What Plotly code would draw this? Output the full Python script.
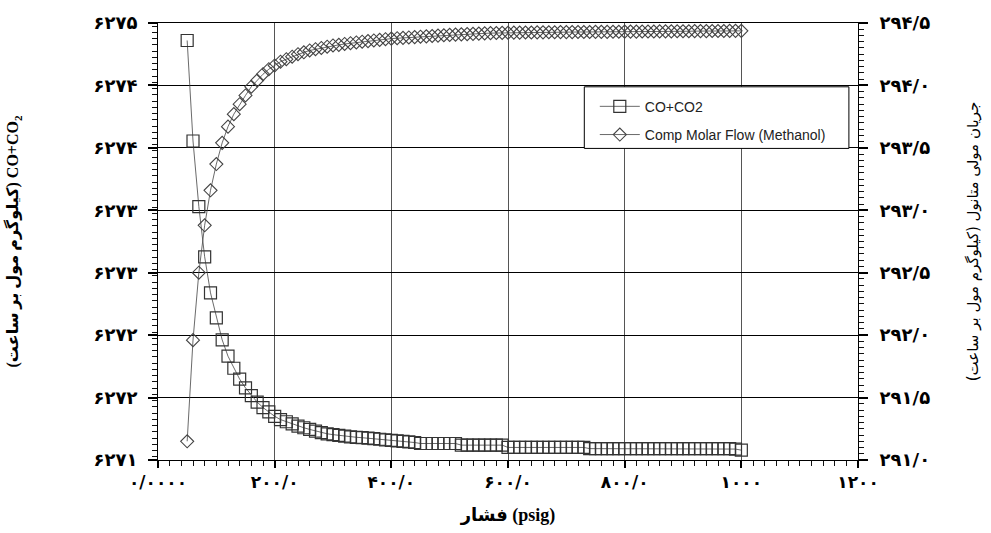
import plotly.graph_objects as go

# Pressure (psig)
pressure = [50, 60, 70, 80, 90, 100, 110, 120, 130, 140, 150, 160, 170, 180, 190, 200,
            210, 220, 230, 240, 250, 260, 270, 280, 290, 300, 310, 320, 330, 340, 350,
            360, 370, 380, 390, 400, 410, 420, 430, 440, 450, 460, 470, 480, 490, 500,
            510, 520, 530, 540, 550, 560, 570, 580, 590, 600, 610, 620, 630, 640, 650,
            660, 670, 680, 690, 700, 710, 720, 730, 740, 750, 760, 770, 780, 790, 800,
            810, 820, 830, 840, 850, 860, 870, 880, 890, 900, 910, 920, 930, 940, 950,
            960, 970, 980, 990, 1000]

# CO+CO2 (kgmole/h) - left axis
co_co2 = [6274.84, 6273.92, 6273.32, 6272.86, 6272.53, 6272.30, 6272.10, 6271.95,
          6271.84, 6271.74, 6271.66, 6271.59, 6271.53, 6271.48, 6271.44, 6271.40,
          6271.37, 6271.35, 6271.33, 6271.31, 6271.295, 6271.28, 6271.265, 6271.25,
          6271.24, 6271.232, 6271.225, 6271.218, 6271.212, 6271.208, 6271.204, 6271.20,
          6271.196, 6271.19, 6271.185, 6271.18, 6271.175, 6271.17, 6271.165, 6271.16,
          6271.151, 6271.151, 6271.151, 6271.151, 6271.151, 6271.151, 6271.151,
          6271.136, 6271.136, 6271.136, 6271.136, 6271.136, 6271.136, 6271.136, 6271.136,
          6271.115, 6271.115, 6271.115, 6271.115, 6271.115, 6271.115, 6271.115, 6271.115,
          6271.115, 6271.115, 6271.115, 6271.115, 6271.115, 6271.115,
          6271.104, 6271.104, 6271.104, 6271.104, 6271.104, 6271.104, 6271.104, 6271.104,
          6271.104, 6271.104, 6271.104, 6271.104, 6271.104, 6271.104, 6271.104, 6271.104,
          6271.104, 6271.104, 6271.104, 6271.104, 6271.104, 6271.104, 6271.104, 6271.104,
          6271.104, 6271.100, 6271.09]

# Methanol molar flow (kgmole/h) - right axis
methanol = [291.15, 291.96, 292.50, 292.88, 293.16, 293.37, 293.54, 293.67, 293.77,
            293.85, 293.92, 293.99, 294.04, 294.09, 294.13, 294.16, 294.19, 294.21,
            294.23, 294.25, 294.265, 294.28, 294.29, 294.30, 294.31, 294.32, 294.325,
            294.332, 294.338, 294.344, 294.35, 294.355, 294.36, 294.365, 294.37, 294.375,
            294.378, 294.381, 294.384, 294.387, 294.39, 294.393, 294.396, 294.399,
            294.402, 294.405, 294.407, 294.409, 294.411, 294.413, 294.415, 294.417,
            294.419, 294.42, 294.421, 294.422, 294.423, 294.423, 294.424, 294.424,
            294.425, 294.425, 294.426, 294.426, 294.427, 294.427, 294.427, 294.428,
            294.428, 294.428, 294.429, 294.429, 294.429, 294.430, 294.430, 294.431,
            294.431, 294.431, 294.432, 294.432, 294.432, 294.433, 294.433, 294.433,
            294.434, 294.434, 294.434, 294.435, 294.435, 294.435, 294.436, 294.436,
            294.436, 294.437, 294.437, 294.437]

# Tick labels (value as formatted by the axis -> Persian label)
x_tickkeys = ["0", "200", "400", "600", "800", "1000", "1200"]
x_ticktext = ["۰/۰۰۰۰", "۲۰۰/۰", "۴۰۰/۰", "۶۰۰/۰", "۸۰۰/۰", "۱۰۰۰", "۱۲۰۰"]
y1_tickkeys = ["6271", "6272", "6273", "6274", "6275"]
y1_ticktext = ["۶۲۷۱", "۶۲۷۲", "۶۲۷۳", "۶۲۷۴", "۶۲۷۵"]
y2_tickkeys = ["291.0", "291.5", "292.0", "292.5", "293.0", "293.5", "294.0", "294.5"]
y2_ticktext = ["۲۹۱/۰", "۲۹۱/۵", "۲۹۲/۰", "۲۹۲/۵", "۲۹۳/۰", "۲۹۳/۵", "۲۹۴/۰", "۲۹۴/۵"]

YTICKFONT = dict(family="DejaVu Sans", size=18, color="black", weight="bold")
XTICKFONT = dict(family="DejaVu Sans", size=17, color="black", weight="bold")

fig = go.Figure()
fig.add_trace(go.Scatter(
    x=pressure, y=co_co2, name="CO+CO2", mode="lines+markers",
    line=dict(color="#444444", width=0.8),
    marker=dict(symbol="square-open", size=12, color="#333333", line=dict(width=1.2, color="#333333")),
    legendgroup="a", yaxis="y"))
fig.add_trace(go.Scatter(
    x=pressure, y=methanol, name="Comp Molar Flow (Methanol)", mode="lines+markers",
    line=dict(color="#444444", width=0.8),
    marker=dict(symbol="diamond-open", size=10, color="#444444", line=dict(width=1.1, color="#444444")),
    legendgroup="b", yaxis="y2"))

fig.update_layout(
    width=991, height=533,
    margin=dict(l=157, r=128, t=22, b=71),
    paper_bgcolor="white", plot_bgcolor="white",
    showlegend=True,
    legend=dict(x=0.624, y=0.845, xanchor="left", yanchor="top",
                bgcolor="rgba(0,0,0,0)", borderwidth=0,
                font=dict(family="Liberation Sans Narrow, Liberation Sans, Arial", size=14, color="#222"),
                tracegroupgap=7, traceorder="grouped", itemwidth=40),
    xaxis=dict(
        range=[0, 1200], dtick=200, tickformat="d",
        labelalias=dict(zip(x_tickkeys, x_ticktext)),
        ticks="outside", ticklen=7, tickcolor="black", tickwidth=1.5,
        minor=dict(ticks="outside", ticklen=5, tickwidth=1.3, tickcolor="#111111", dtick=20),
        showline=True, linecolor="black", linewidth=1, mirror=True,
        showgrid=True, gridcolor="#555555", gridwidth=1, zeroline=False,
        tickfont=XTICKFONT,
        title=dict(text="\u200eفشار (psig)", standoff=16,
                   font=dict(family="Liberation Serif, DejaVu Sans", size=18, color="black", weight="bold")),
    ),
    yaxis=dict(
        range=[6271, 6275], tick0=6271, dtick=4 / 7, tickformat=".0f",
        labelalias=dict(zip(y1_tickkeys, y1_ticktext)),
        ticks="outside", ticklen=9, tickcolor="black", tickwidth=1.5,
        minor=dict(ticks="outside", ticklen=5, tickwidth=1.3, tickcolor="#111111", dtick=4 / 70),
        showline=True, linecolor="black", linewidth=1,
        showgrid=True, gridcolor="black", gridwidth=1.2, zeroline=False,
        tickfont=YTICKFONT, ticklabelstandoff=7,
        title=dict(text="(کیلوگرم مول بر ساعت) CO+CO<sub>2</sub>\u00a0\u00a0\u00a0\u00a0\u00a0", standoff=70,
                   font=dict(family="Liberation Serif, DejaVu Sans", size=16, color="black", weight="bold")),
    ),
    yaxis2=dict(
        range=[291, 294.5], tick0=291, dtick=0.5, tickformat=".1f",
        labelalias=dict(zip(y2_tickkeys, y2_ticktext)),
        overlaying="y", side="right", anchor="x",
        ticks="outside", ticklen=9, tickcolor="black", tickwidth=1.5,
        minor=dict(ticks="outside", ticklen=5, tickwidth=1.3, tickcolor="#111111", dtick=0.05),
        showline=True, linecolor="black", linewidth=1,
        showgrid=False, zeroline=False,
        tickfont=YTICKFONT, ticklabelstandoff=8,
        title=dict(text="جریان مولی متانول (کیلوگرم مول بر ساعت)\u200f", standoff=38,
                   font=dict(family="DejaVu Sans", size=15, color="black")),
    ),
    shapes=[dict(type="rect", xref="paper", yref="paper", x0=0.609, x1=0.987, y0=0.713, y1=0.854,
                 line=dict(color="black", width=1), fillcolor="white", layer="above")],
)

fig.write_html("out.html")
